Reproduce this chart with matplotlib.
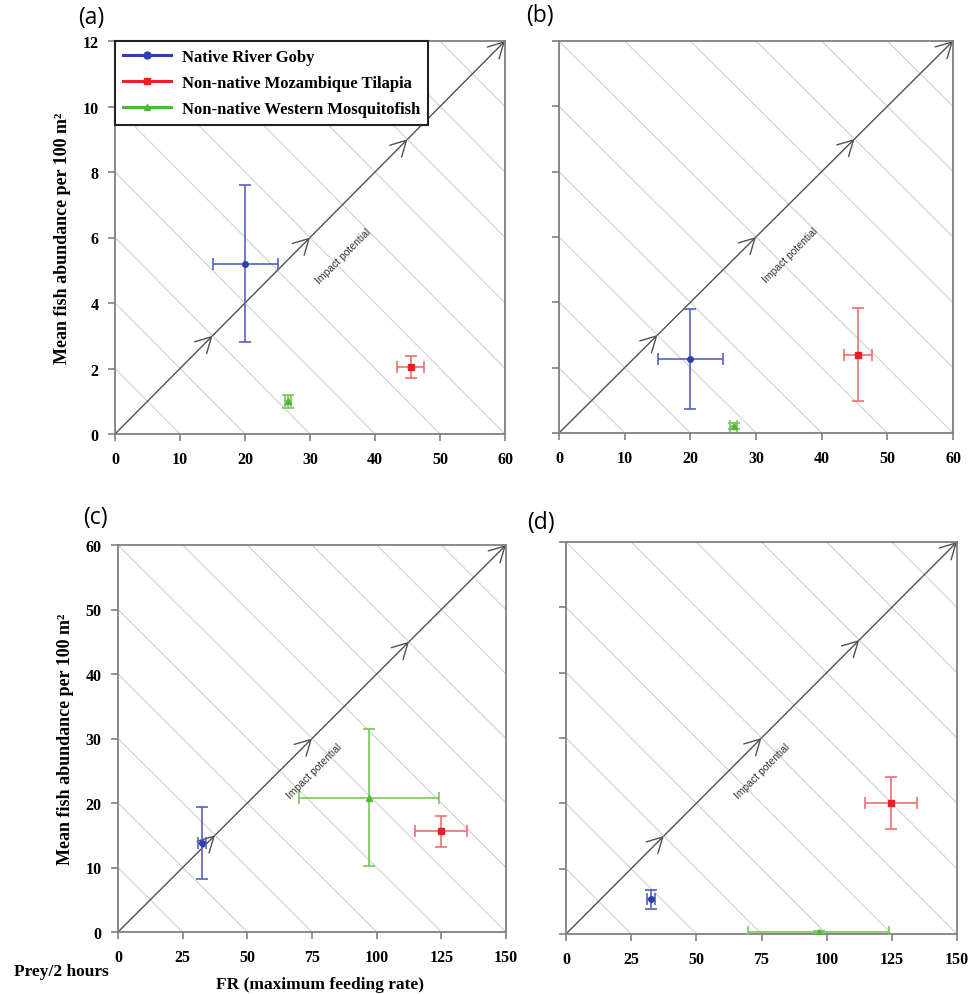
import matplotlib
matplotlib.use("Agg")
import matplotlib.pyplot as plt
from matplotlib.lines import Line2D
import numpy as np

# ---------------- data ----------------
species = ['Native River Goby', 'Non-native Mozambique Tilapia', 'Non-native Western Mosquitofish']
panel_labels = ['(a)', '(b)', '(c)', '(d)']

# FR (maximum feeding rate), prey / 2 hours  (order: goby, tilapia, mosquitofish)
fr_ab = [20.0, 45.5, 26.6]
fr_ab_err = [5.0, 2.1, 0.5]
fr_cd = [32.5, 124.8, 97.0]
fr_cd_err = [1.5, 10.0, 27.0]

# Mean fish abundance per 100 m2  (order: goby, tilapia, mosquitofish)
abund_a = [5.2, 2.05, 1.0]
abund_a_err = [2.4, 0.33, 0.2]
abund_b = [2.26, 2.4, 0.22]
abund_b_err = [1.54, 1.43, 0.1]
abund_c = [13.8, 15.6, 20.85]
abund_c_err = [5.6, 2.4, 10.65]
abund_d = [5.3, 20.1, 0.3]
abund_d_err = [1.4, 4.0, 0.1]

xticks_ab = [0, 10, 20, 30, 40, 50, 60]
yticks_ab = [0, 2, 4, 6, 8, 10, 12]
xticks_cd = [0, 25, 50, 75, 100, 125, 150]
yticks_cd = [0, 10, 20, 30, 40, 50, 60]

# ---------------- style ----------------
marker_colors = ['#2d3fae', '#e8202a', '#4fb83a']
bar_colors = ['#5560c2', '#f07070', '#78c85a']
markers = ['o', 's', '^']
serif = ['Liberation Serif', 'DejaVu Serif']
sans = ['Liberation Sans', 'DejaVu Sans']

fig = plt.figure(figsize=(9.68, 9.95), dpi=100)

rects = [
    (115/968, 1-435/995, 390/968, 393/995),
    (559/968, 1-434/995, 394/968, 392/995),
    (118/968, 1-933/995, 388/968, 387/995),
    (566/968, 1-935/995, 391/968, 392/995),
]

panels = [
    (fr_ab, fr_ab_err, abund_a, abund_a_err, xticks_ab, yticks_ab, True, (0.585, 0.455)),
    (fr_ab, fr_ab_err, abund_b, abund_b_err, xticks_ab, yticks_ab, False, (0.588, 0.455)),
    (fr_cd, fr_cd_err, abund_c, abund_c_err, xticks_cd, yticks_cd, True, (0.505, 0.416)),
    (fr_cd, fr_cd_err, abund_d, abund_d_err, xticks_cd, yticks_cd, False, (0.503, 0.416)),
]

axes = []
for rect, (fx, fxe, ay, aye, xt, yt, ylab, tpos) in zip(rects, panels):
    ax = fig.add_axes(rect)
    axes.append(ax)
    xmax, ymax = xt[-1], yt[-1]
    step = xt[1]
    # diagonal iso-impact lines
    for k in range(1, 2 * (len(xt) - 1)):
        c = step * k
        ax.plot([c, c - xmax], [0, ymax], color='#d0d0d0', lw=0.8, zorder=1, clip_on=True)
    # impact potential arrow with chevrons
    for i in range(4):
        s = i / 4.0
        e = (i + 1) / 4.0
        ax.annotate('', xy=(e * xmax, e * ymax), xytext=(s * xmax, s * ymax),
                    arrowprops=dict(arrowstyle='->,head_length=0.55,head_width=0.3',
                                    color='#505050', lw=1.0, shrinkA=0, shrinkB=0,
                                    mutation_scale=20),
                    zorder=2, annotation_clip=False)
    ax.text(tpos[0], tpos[1], 'Impact potential', transform=ax.transAxes,
            rotation=45, ha='center', va='center', fontsize=7.5,
            family=sans, color='#333333', zorder=3)
    # data
    for j in range(3):
        ax.errorbar(fx[j], ay[j], xerr=fxe[j], yerr=aye[j], fmt=markers[j],
                    color=bar_colors[j], mfc=marker_colors[j], mec=marker_colors[j],
                    ms=4, elinewidth=1.2, capsize=4, capthick=1.2, zorder=5)
    ax.set_xlim(0, xmax)
    ax.set_ylim(0, ymax)
    ax.set_xticks(xt)
    ax.set_yticks(yt)
    for sp in ax.spines.values():
        sp.set_color('#808080')
        sp.set_linewidth(1.3)
    ax.tick_params(direction='out', length=5, width=1.2, color='#808080',
                   labelsize=11.5, pad=7)
    for lab in ax.get_xticklabels() + ax.get_yticklabels():
        lab.set_family(serif)
        lab.set_fontweight('bold')
    if ylab:
        ax.set_ylabel('Mean fish abundance per 100 m\u00b2', fontsize=13,
                      fontweight='bold', family=serif, labelpad=8)
    else:
        ax.set_yticklabels([])

# legend in panel (a)
handles = [Line2D([0], [0], color=marker_colors[j], lw=2.2, marker=markers[j], ms=5)
           for j in range(3)]
leg = axes[0].legend(handles, species, loc='upper left', bbox_to_anchor=(0, 1),
                     borderaxespad=0, frameon=True, fancybox=False, framealpha=1,
                     edgecolor='#222222', handlelength=2.9, handletextpad=0.7,
                     labelspacing=0.62, borderpad=0.45,
                     prop=dict(family=serif, weight='bold', size=12))
leg.get_frame().set_linewidth(1.5)
leg.set_zorder(10)

# panel labels
for lbl, (px, py) in zip(panel_labels, [(91, 18), (540, 16), (95, 518), (541, 523)]):
    fig.text(px / 968, 1 - py / 995, lbl, ha='center', va='center', fontsize=16.5,
             family=['Open Sans', 'DejaVu Sans'])

fig.text(61 / 968, 1 - 972 / 995, 'Prey/2 hours', ha='center', va='center',
         fontsize=12.5, fontweight='bold', family=serif)
fig.text(320 / 968, 1 - 985 / 995, 'FR (maximum feeding rate)', ha='center', va='center',
         fontsize=12.5, fontweight='bold', family=serif)

fig.savefig('out.png', dpi=100)
